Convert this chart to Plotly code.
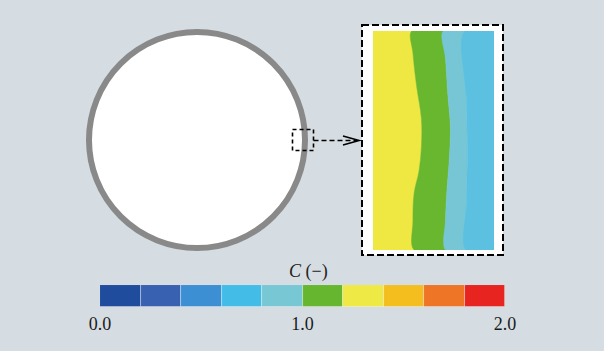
import plotly.graph_objects as go

W, H = 604, 351
BG = "#d5dde2"

# ---- colorbar data ----
cb_edges_mid = [0.1, 0.3, 0.5, 0.7, 0.9, 1.1, 1.3, 1.5, 1.7, 1.9]
cb_colors = ["#1f4c9d", "#3861b1", "#3d8fd4", "#43bde8", "#77c8d4",
             "#67b62f", "#eee944", "#f5be1f", "#ee7526", "#e82421"]
cb_tickvals = [0, 1, 2]
cb_ticktext = ["0.0", "1.0", "2.0"]
cb_title = "<i>C</i> (−)"

# ---- inset contour bands (fraction of inset width, rows from top) ----
b1_y = [0.0, 0.10, 0.25, 0.40, 0.53, 0.64, 0.74, 0.87, 1.0]
b1_x = [0.32, 0.33, 0.36, 0.40, 0.40, 0.38, 0.34, 0.33, 0.34]   # yellow | green
b2_y = [0.0, 0.13, 0.30, 0.44, 0.59, 0.74, 0.86, 1.0]
b2_x = [0.58, 0.60, 0.62, 0.64, 0.63, 0.61, 0.60, 0.60]          # green | light cyan
b3_y = [0.0, 0.30, 0.55, 0.80, 1.0]
b3_x = [0.76, 0.77, 0.78, 0.77, 0.77]                            # light cyan | sky blue
band_colors = ["#efe742", "#69b72f", "#76c6d6", "#5cc1e0"]

fig = go.Figure()

def band(xl, yl, xr, yr, color):
    xs = list(xl) + list(reversed(xr)) + [xl[0]]
    ys = list(yl) + list(reversed(yr)) + [yl[0]]
    fig.add_trace(go.Scatter(x=xs, y=ys, mode="lines", fill="toself",
                             fillcolor=color, line=dict(color=color, width=0.5, shape="spline"),
                             xaxis="x3", yaxis="y3", hoverinfo="skip", showlegend=False))

left_y = [0.0, 1.0]; left_x = [0.0, 0.0]
right_y = [0.0, 1.0]; right_x = [1.0, 1.0]
band(left_x, left_y, b1_x, b1_y, band_colors[0])
band(b1_x, b1_y, b2_x, b2_y, band_colors[1])
band(b2_x, b2_y, b3_x, b3_y, band_colors[2])
band(b3_x, b3_y, right_x, right_y, band_colors[3])

# colorbar bars
fig.add_trace(go.Bar(x=cb_edges_mid, y=[1] * len(cb_edges_mid), width=0.2,
                     marker=dict(color=cb_colors, line=dict(color="rgba(255,255,255,0.45)", width=0.8)),
                     xaxis="x2", yaxis="y2", hoverinfo="skip", showlegend=False))

shapes = []
# circle
shapes.append(dict(type="circle", xref="x", yref="y", x0=89, x1=305, y0=32, y1=248,
                   line=dict(color="#898989", width=6), fillcolor="white", layer="below"))
# big inset frame (white)
shapes.append(dict(type="rect", xref="x", yref="y", x0=362, x1=503, y0=25, y1=255,
                   line=dict(color="black", width=2, dash="7px,3px"), fillcolor="white", layer="below"))
# small dashed box
shapes.append(dict(type="rect", xref="x", yref="y", x0=292.5, x1=313.5, y0=129.5, y1=150.5,
                   line=dict(color="black", width=1.6, dash="4px,3px")))
# arrow line
shapes.append(dict(type="line", xref="x", yref="y", x0=313.5, x1=357, y0=140.5, y1=140.5,
                   line=dict(color="black", width=1.6, dash="5px,3px")))
shapes.append(dict(type="path", xref="x", yref="y", path="M 343 136 L 359 140.5 L 343 145",
                   line=dict(color="black", width=1.6)))

fig.add_annotation(x=308, y=271, xref="x", yref="y", text=cb_title, showarrow=False,
                   font=dict(family="Liberation Serif", size=18, color="#222"))

fig.update_layout(
    width=W, height=H, margin=dict(l=0, r=0, t=0, b=0, autoexpand=False),
    paper_bgcolor=BG, plot_bgcolor="rgba(0,0,0,0)", bargap=0,
    shapes=shapes,
    xaxis=dict(range=[0, W], domain=[0, 1], visible=False, fixedrange=True),
    yaxis=dict(range=[H, 0], domain=[0, 1], visible=False, fixedrange=True),
    xaxis2=dict(range=[0, 2], domain=[100 / W, 505 / W], anchor="y2",
                tickvals=cb_tickvals, ticktext=cb_ticktext, showgrid=False, zeroline=False,
                showline=False, ticks="", ticklabelstandoff=4,
                tickfont=dict(family="Liberation Serif", size=18, color="#1a1a1a")),
    yaxis2=dict(range=[0, 1], domain=[(H - 307) / H, (H - 285) / H], anchor="x2",
                visible=False),
    xaxis3=dict(range=[0, 1], domain=[373 / W, 494 / W], anchor="y3", visible=False),
    yaxis3=dict(range=[1, 0], domain=[(H - 250) / H, (H - 31) / H], anchor="x3", visible=False),
)

fig.write_html("out.html", config={"displayModeBar": False},
               post_script="document.body.style.margin='0';document.body.style.background='" + BG + "';")
